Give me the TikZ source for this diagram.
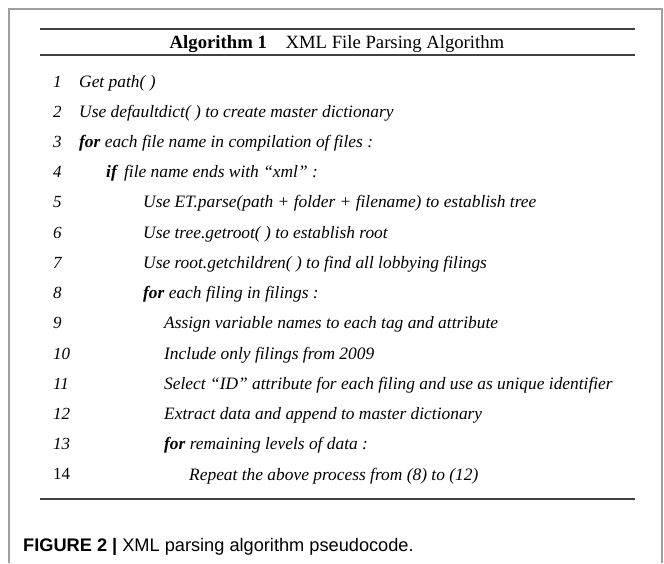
\documentclass[tikz,border=0pt]{standalone}
\usepackage{fontspec}
\setmainfont{Liberation Serif}
\setsansfont{Liberation Sans}
\usepackage{tikz}
\usetikzlibrary{positioning}

\tikzset{
    num/.style = {anchor=base west, font=\itshape\fontsize{17}{20}\selectfont},
    txt/.style = {anchor=base west, font=\itshape\fontsize{17.4}{20}\selectfont},
    rulefig/.style = {line width=1.4pt, black!75},
}
\newcommand{\kw}[1]{\textbf{#1}}

\begin{document}
\begin{tikzpicture}[x=1pt, y=-1pt, inner sep=0pt]
        \useasboundingbox (0,0) rectangle (664,563);
        \draw[gray!75, line width=1.5pt] (9,563) -- (9,9) -- (662,9) -- (662,563);
        \draw[rulefig] (40,29) -- (635,29);
        \draw[rulefig] (40,55) -- (635,55);
        \draw[rulefig] (40,499) -- (635,499);
        \node[anchor=base, font=\fontsize{18.7}{22}\selectfont] (title) at (337,48)
            {\textbf{Algorithm 1}\quad XML File Parsing Algorithm};
        % line numbers
        \foreach \i in {1,...,13}
            \node[num] (n\i) at (53, {87+30.23*(\i-1)}) {\i};
        \node[num, font=\fontsize{17}{20}\selectfont] (n14) at (53, {87+30.23*13}) {14};
        % pseudocode lines
        \node[txt] (l1) at (79, 87.0) {Get path( )};
        \node[txt] (l2) at (79, 117.2) {Use defaultdict( ) to create master dictionary};
        \node[txt] (l3) at (79, 147.5) {\kw{for} each file name in compilation of files :};
        \node[txt] (l4) at (106, 177.7) {\kw{if}\, file name ends with “xml” :};
        \node[txt] (l5) at (143, 207.9) {Use ET.parse(path + folder + filename) to establish tree};
        \node[txt] (l6) at (143, 238.2) {Use tree.getroot( ) to establish root};
        \node[txt] (l7) at (143, 268.4) {Use root.getchildren( ) to find all lobbying filings};
        \node[txt] (l8) at (143, 298.6) {\kw{for} each filing in filings :};
        \node[txt] (l9) at (164, 328.8) {Assign variable names to each tag and attribute};
        \node[txt] (l10) at (164, 359.1) {Include only filings from 2009};
        \node[txt] (l11) at (164, 389.3) {Select “ID” attribute for each filing and use as unique identifier};
        \node[txt] (l12) at (164, 419.5) {Extract data and append to master dictionary};
        \node[txt] (l13) at (164, 449.7) {\kw{for} remaining levels of data :};
        \node[txt] (l14) at (189, 480.0) {Repeat the above process from (8) to (12)};
        % caption
        \node[anchor=base west, font=\sffamily\fontsize{18.2}{21}\selectfont] (cap) at (23,551)
            {\textbf{FIGURE 2 |} XML parsing algorithm pseudocode.};
    \end{tikzpicture}
\end{document}
